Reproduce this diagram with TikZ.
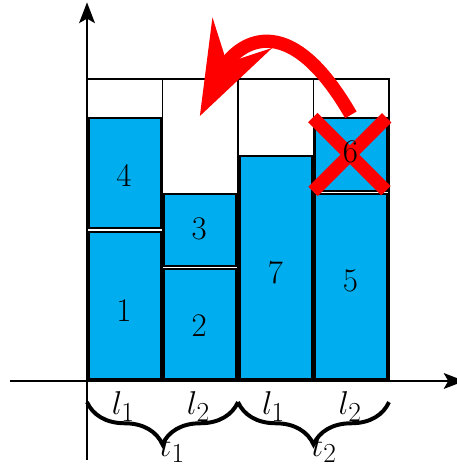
\documentclass[tikz,border=0pt]{standalone}
\usepackage{tikz}
\usetikzlibrary{arrows.meta,decorations.pathreplacing}
\definecolor{boxblue}{RGB}{0,174,239}

\begin{document}
\begin{tikzpicture}[
  font=\Huge,
  every node/.style={inner sep=1pt},
  slot/.style={draw, line width=1.2pt},
  blk/.style={draw, fill=boxblue, line width=1.5pt},
  axis/.style={line width=1.2pt, -{Stealth[length=5.5mm, width=4.2mm, inset=1.2mm]}},
  brc/.style={decorate, line width=3pt,
              decoration={brace, mirror, amplitude=1.12cm}},
  strike/.style={red, line width=10pt},
  relocate/.style={red, line width=10pt,
                   -{Stealth[length=2.48cm, width=1.78cm, inset=0.9cm, line width=0pt]}}
]
% Page size with the reference margins.
\useasboundingbox (-2.305,-2.252) rectangle (9.8,10.093);

% Empty slots, one per column.
\foreach \x in {0,2,4,6}
  \draw[slot] (\x,0) rectangle ++(2,8);

% Filled blocks: column, bottom, top.
\foreach \x/\lo/\hi in {0/0/4, 0/4/7, 2/0/3, 2/3/5, 4/0/6, 6/0/5, 6/5/7}
  \draw[blk] (\x+0.04,\lo+0.04) rectangle (\x+1.96,\hi-0.04);

% Block numbers.
\node (n1) at (0.98,1.87) {1};
\node (n4) at (0.98,5.44) {4};
\node (n2) at (2.97,1.47) {2};
\node (n3) at (2.97,4.04) {3};
\node (n7) at (4.99,2.88) {7};
\node (n5) at (6.98,2.66) {5};

% Block 6 is struck out.
\draw[strike] (5.98,6.98) -- (7.92,5.04);
\draw[strike] (7.94,6.97) -- (5.99,5.02);
\node (n6) at (6.98,6.06) {6};

% Axes.
\draw[axis] (-2.04,0) -- (10,0);
\draw[axis] (0,-2.09) -- (0,10.03);

% Column labels and the two braces below the axis.
\node (la) at (0.96,-0.68) {$l_1$};
\node (lb) at (2.95,-0.68) {$l_2$};
\node (lc) at (4.94,-0.68) {$l_1$};
\node (ld) at (6.97,-0.68) {$l_2$};
\draw[brc] (0,-0.56) -- (4,-0.56);
\draw[brc] (4,-0.56) -- (8,-0.56);
\node (t1) at (2.26,-1.81) {$t_1$};
\node (t2) at (6.28,-1.81) {$t_2$};

% Block 6 moves into the free space of column 2.
\coordinate (from6) at (6.99,7.05);
\coordinate (gap2) at (2.99,7.02);
\draw[relocate] (from6) .. controls +(120:3.75) and +(63:1.7) .. (gap2);
\end{tikzpicture}
\end{document}
